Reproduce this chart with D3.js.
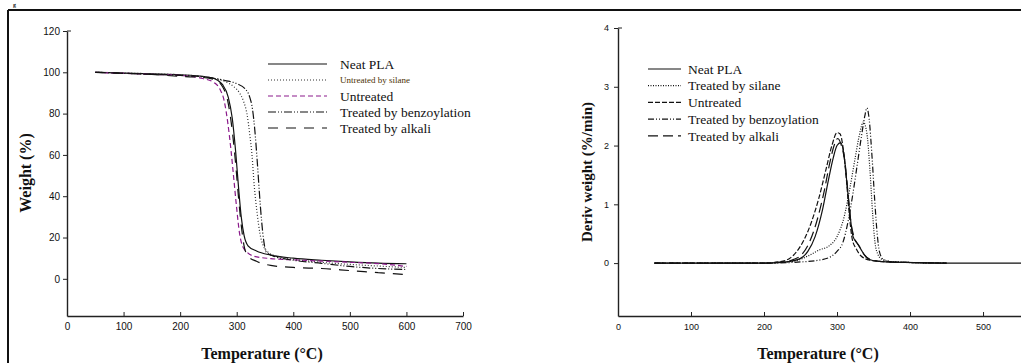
<!DOCTYPE html>
<html>
<head>
<meta charset="utf-8">
<script src="https://cdn.jsdelivr.net/npm/d3@7"></script>
<style>
  body { margin: 0; background: #fff; }
  svg { display: block; }
  .tick text { font-family: "Liberation Sans", Arial, sans-serif; fill: #111; }
  .axTitle { font-family: "Liberation Serif", "Times New Roman", serif; font-weight: bold; fill: #111; }
  .legText { font-family: "Liberation Serif", "Times New Roman", serif; fill: #111; }
</style>
</head>
<body>
<svg id="fig" width="1021" height="363"></svg>
<script>
// ---- data ----
var seriesNames = ["Neat PLA", "Untreated by silane", "Untreated", "Treated by benzoylation", "Treated by alkali"];
var dtgNames = ["Neat PLA", "Treated by silane", "Untreated", "Treated by benzoylation", "Treated by alkali"];

var tgaTicksX = [0, 100, 200, 300, 400, 500, 600, 700];
var tgaTicksY = [0, 20, 40, 60, 80, 100, 120];
var dtgTicksX = [0, 100, 200, 300, 400, 500];
var dtgTicksY = [0, 1, 2, 3, 4];

// TGA: [temperature, weight %]
var tgaNeat = [[50,100],[100,99.6],[150,99.2],[200,98.8],[240,98],[260,97],[275,94],[285,88],[292,78],[298,62],[303,45],[308,30],[313,21],[320,16],[335,13.5],[360,11.5],[400,10],[450,9],[500,8.2],[550,7.6],[600,7.3]];
var tgaSilane = [[50,100],[150,99.3],[200,98.8],[250,97.5],[280,95.5],[295,93],[305,90],[312,86],[318,80],[323,70],[327,60],[331,45],[336,32],[341,22],[347,16],[355,13],[370,11],[400,9.5],[450,8],[500,7],[550,6.2],[600,5.5]];
var tgaUntreated = [[50,100],[150,99],[200,98.5],[240,97],[260,95],[270,92],[278,86],[284,76],[290,62],[295,48],[300,34],[305,22],[310,16],[318,13],[330,11],[360,9.8],[400,9.2],[450,8.6],[500,8],[550,7.4],[600,6]];
var tgaBenzoyl = [[50,100],[150,99],[200,98.5],[250,97.5],[280,96],[300,94.5],[315,92],[323,88],[328,82],[332,72],[336,58],[340,42],[344,28],[348,18],[352,13],[365,11],[400,9],[450,7.5],[500,6],[550,5],[600,4.5]];
var tgaAlkali = [[50,100],[100,99.5],[150,99],[200,98],[240,97.5],[260,96.5],[275,93],[285,85],[292,72],[298,56],[303,40],[308,26],[313,16],[320,11],[335,8.5],[360,6.5],[400,5.5],[450,5],[500,4],[550,3],[600,2]];

// DTG: [temperature, deriv weight %/min]
var dtgNeat = [[50,0],[150,0],[200,0],[230,0.02],[250,0.08],[260,0.2],[270,0.45],[280,0.9],[288,1.4],[295,1.8],[300,2.0],[305,2.05],[310,1.8],[314,1.3],[318,0.8],[322,0.45],[327,0.35],[332,0.25],[340,0.1],[350,0.04],[370,0.02],[400,0.01],[450,0],[500,0],[600,0]];
var dtgSilane = [[50,0],[200,0],[240,0.03],[260,0.12],[275,0.22],[290,0.3],[300,0.45],[310,0.8],[318,1.3],[325,1.8],[331,2.2],[336,2.4],[341,2.2],[345,1.6],[349,0.8],[352,0.35],[356,0.15],[362,0.06],[380,0.02],[450,0]];
var dtgUntreated = [[50,0],[200,0],[220,0.02],[235,0.08],[245,0.2],[255,0.4],[265,0.7],[275,1.1],[285,1.6],[293,2.0],[300,2.22],[304,2.2],[309,1.9],[313,1.4],[317,0.8],[321,0.4],[326,0.25],[333,0.12],[345,0.05],[370,0.02],[400,0.01],[450,0]];
var dtgBenzoyl = [[50,0],[200,0],[250,0.02],[275,0.05],[290,0.1],[300,0.2],[308,0.35],[315,0.7],[322,1.2],[328,1.7],[334,2.2],[338,2.5],[341,2.64],[344,2.45],[348,1.8],[352,1.0],[355,0.5],[358,0.2],[363,0.07],[375,0.02],[450,0]];
var dtgAlkali = [[50,0],[200,0],[225,0.02],[240,0.06],[252,0.15],[262,0.35],[272,0.7],[282,1.2],[290,1.7],[296,2.0],[301,2.12],[306,2.0],[311,1.7],[315,1.2],[319,0.7],[324,0.42],[330,0.3],[337,0.15],[348,0.05],[370,0.02],[450,0]];

// line styles (order matches names)
var tgaDash = ["none", "1,2", "5,3", "8,2,1,2,1,2", "10,8"];
var tgaColor = ["#111", "#333", "#8b1a8b", "#111", "#111"];
var dtgDash = ["none", "1,1.5", "5,2", "6,2,1,2,1,2", "10,5"];

var svg = d3.select("#fig");

// frame lines of the figure
svg.append("line").attr("x1", 8).attr("x2", 1021).attr("y1", 10).attr("y2", 10)
  .attr("stroke", "#111").attr("stroke-width", 2);
svg.append("line").attr("x1", 8).attr("x2", 8).attr("y1", 10).attr("y2", 363)
  .attr("stroke", "#111").attr("stroke-width", 2);
// the caption letter peeking above the frame
svg.append("text").attr("x", 13).attr("y", 6.5).attr("class", "axTitle")
  .style("font-size", "6px").text("g");

function drawPanel(opt)
{
  var x = d3.scaleLinear().domain(opt.xDomain).range(opt.xRange);
  var y = d3.scaleLinear().domain(opt.yDomain).range(opt.yRange);
  var g = svg.append("g");

  var xAxis = g.append("g")
    .attr("transform", "translate(0," + opt.yRange[0] + ")")
    .call(d3.axisBottom(x).tickValues(opt.xTicks).tickFormat(d3.format("d"))
      .tickSize(-4).tickSizeOuter(0).tickPadding(opt.xPad));
  xAxis.selectAll("text").style("font-size", opt.tickFont + "px");

  var yAxis = g.append("g")
    .attr("transform", "translate(" + opt.xRange[0] + ",0)")
    .call(d3.axisLeft(y).tickValues(opt.yTicks).tickFormat(d3.format("d"))
      .tickSize(4).tickSizeOuter(0).tickPadding(opt.yPad));
  yAxis.selectAll("text").style("font-size", opt.tickFont + "px");

  g.selectAll(".domain").attr("stroke", "#222").attr("stroke-width", 1.4);
  g.selectAll(".tick line").attr("stroke", "#222").attr("stroke-width", 1);

  // small right hook at the top of the y axis
  g.append("line")
    .attr("x1", opt.xRange[0]).attr("x2", opt.xRange[0] + 4)
    .attr("y1", y(opt.yTicks[opt.yTicks.length - 1])).attr("y2", y(opt.yTicks[opt.yTicks.length - 1]))
    .attr("stroke", "#222").attr("stroke-width", 1);

  var line = d3.line()
    .x(function(d) { return x(d[0]); })
    .y(function(d) { return y(d[1]); })
    .curve(d3.curveMonotoneX);

  g.selectAll(".curve")
    .data(opt.series)
    .enter()
    .append("path")
    .attr("d", function(d) { return line(d); })
    .attr("fill", "none")
    .attr("stroke", function(d, i) { return opt.colors[i]; })
    .attr("stroke-width", 1.2)
    .attr("stroke-dasharray", function(d, i) { return opt.dash[i]; });

  // legend
  var leg = g.selectAll(".leg")
    .data(opt.names)
    .enter()
    .append("g")
    .attr("transform", function(d, i) { return "translate(0," + (opt.legY + i * opt.legStep) + ")"; });

  leg.append("line")
    .attr("x1", opt.legX1).attr("x2", opt.legX2)
    .attr("stroke", function(d, i) { return opt.colors[i]; })
    .attr("stroke-width", 1.2)
    .attr("stroke-dasharray", function(d, i) { return opt.dash[i]; });

  leg.append("text")
    .attr("class", "legText")
    .attr("x", opt.legText)
    .attr("dy", "0.35em")
    .style("font-size", function(d, i) { return (opt.smallIdx === i ? 9 : 13.5) + "px"; })
    .style("fill", function(d, i) { return opt.smallIdx === i ? "#4a3000" : "#111"; })
    .text(function(d) { return d; });

  // titles
  g.append("text")
    .attr("class", "axTitle")
    .attr("x", opt.xTitleX).attr("y", 353)
    .attr("dy", "0.35em")
    .attr("text-anchor", "middle")
    .style("font-size", "16px")
    .text("Temperature (°C)");

  g.append("text")
    .attr("class", "axTitle")
    .attr("transform", "translate(" + opt.yTitleX + "," + opt.yTitleY + ")rotate(-90)")
    .attr("dy", "0.35em")
    .attr("text-anchor", "middle")
    .style("font-size", opt.yTitleSize + "px")
    .text(opt.yTitle);
}

drawPanel({
  xDomain: [0, 700], xRange: [67, 463],
  yDomain: [-18, 120], yRange: [316, 31],
  xTicks: tgaTicksX, yTicks: tgaTicksY,
  xPad: 7, yPad: 3, tickFont: 10,
  series: [tgaNeat, tgaSilane, tgaUntreated, tgaBenzoyl, tgaAlkali],
  colors: tgaColor, dash: tgaDash, names: seriesNames, smallIdx: 1,
  legX1: 268, legX2: 327, legText: 340, legY: 64, legStep: 16,
  xTitleX: 262, yTitleX: 25, yTitleY: 173, yTitleSize: 16, yTitle: "Weight (%)"
});

drawPanel({
  xDomain: [0, 552], xRange: [618, 1021],
  yDomain: [-0.9, 4], yRange: [316, 28],
  xTicks: dtgTicksX, yTicks: dtgTicksY,
  xPad: 8, yPad: 5, tickFont: 9,
  series: [dtgNeat, dtgSilane, dtgUntreated, dtgBenzoyl, dtgAlkali],
  colors: ["#111", "#111", "#111", "#111", "#111"], dash: dtgDash, names: dtgNames, smallIdx: -1,
  legX1: 648, legX2: 681, legText: 688, legY: 69, legStep: 16.7,
  xTitleX: 818, yTitleX: 587, yTitleY: 172, yTitleSize: 15, yTitle: "Deriv weight (%/min)"
});
</script>
</body>
</html>
